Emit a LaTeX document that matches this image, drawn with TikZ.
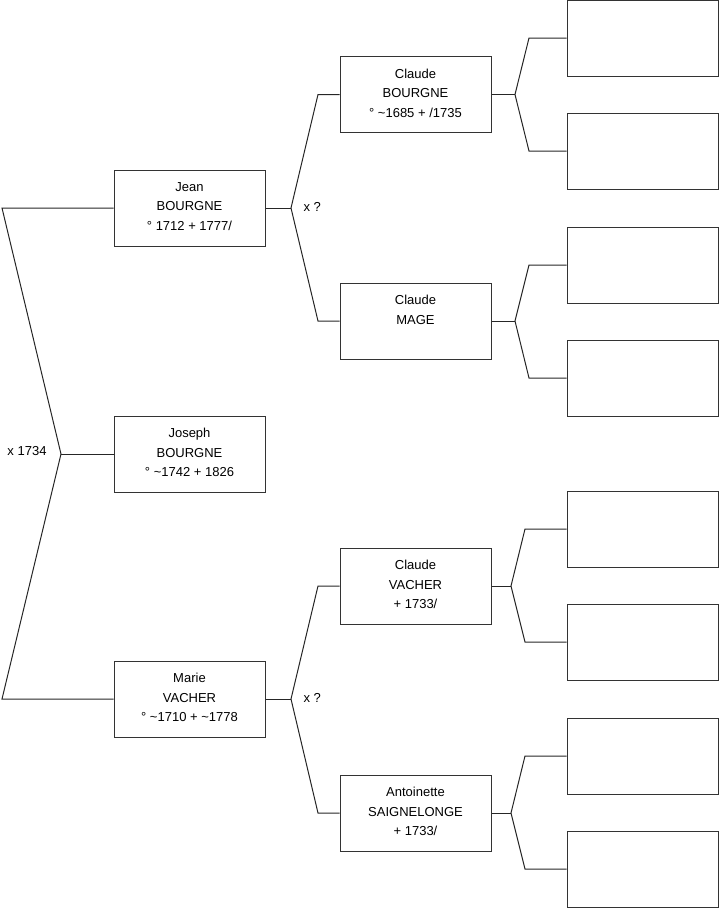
\documentclass[tikz,border=0pt]{standalone}
\usepackage{fontspec}
\setmainfont{Liberation Sans}
\begin{document}
\begin{tikzpicture}[x=0.75pt,y=-0.75pt,line width=0.75pt,
  box/.style={draw=black!80,fill=white,minimum width=113.25pt,minimum height=57pt,inner sep=0pt},
  txt/.style={align=center,inner sep=0pt,font=\fontsize{9.75}{14.6}\selectfont},
  conn/.style={draw=black!85},
  lbl/.style={font=\fontsize{9.75}{11}\selectfont,inner sep=0pt}]
\useasboundingbox (0,0) rectangle (719,908);
% generation 1
\node[box] (jean) at (189.5,208) {};
\node[txt] (tjean) at ([yshift=1.1pt]jean.center) {Jean\\BOURGNE\\° 1712 + 1777/};
\node[box] (joseph) at (189.5,454) {};
\node[txt] (tjoseph) at ([yshift=1.1pt]joseph.center) {Joseph\\BOURGNE\\° \char`~1742 + 1826};
\node[box] (marie) at (189.5,699) {};
\node[txt] (tmarie) at ([yshift=1.1pt]marie.center) {Marie\\VACHER\\° \char`~1710 + \char`~1778};
% generation 2
\node[box] (cb) at (415.5,94.5) {};
\node[txt] (tcb) at ([yshift=1.1pt]cb.center) {Claude\\BOURGNE\\° \char`~1685 + /1735};
\node[box] (cm) at (415.5,321) {};
\node[txt] (tcm) at ([yshift=-1.1pt]cm.center) {Claude\\MAGE\\\strut};
\node[box] (cv) at (415.5,586) {};
\node[txt] (tcv) at ([yshift=1.1pt]cv.center) {Claude\\VACHER\\+ 1733/};
\node[box] (as) at (415.5,813) {};
\node[txt] (tas) at ([yshift=1.1pt]as.center) {Antoinette\\SAIGNELONGE\\+ 1733/};
% generation 3
\node[box] (e1) at (642.5,38) {};
\node[box] (e2) at (642.5,151) {};
\node[box] (e3) at (642.5,265) {};
\node[box] (e4) at (642.5,378) {};
\node[box] (e5) at (642.5,529) {};
\node[box] (e6) at (642.5,642) {};
\node[box] (e7) at (642.5,756) {};
\node[box] (e8) at (642.5,869) {};
% connectors left
\coordinate (jl) at (2,208);
\coordinate (ml) at (2,699);
\coordinate (v0) at (61,454);
\draw[conn] (jean.west) -- (jl) -- (v0) -- (ml) -- (marie.west);
\draw[conn] (v0) -- (joseph.west);
\node[lbl,anchor=west] (l0) at (7,451) {x 1734};
% Jean parents
\coordinate (v1) at (291,208);
\coordinate (v1a) at (318,94.5);
\coordinate (v1b) at (318,321);
\draw[conn] (jean.east) -- (v1);
\draw[conn] (cb.west) -- (v1a) -- (v1) -- (v1b) -- (cm.west);
\node[lbl,anchor=west] (l1) at (303,207) {x ?};
% Marie parents
\coordinate (v2) at (291,699);
\coordinate (v2a) at (318,586);
\coordinate (v2b) at (318,813);
\draw[conn] (marie.east) -- (v2);
\draw[conn] (cv.west) -- (v2a) -- (v2) -- (v2b) -- (as.west);
\node[lbl,anchor=west] (l2) at (303,698) {x ?};
% grandparents
\coordinate (w1) at (515,94.5);
\coordinate (w1a) at (529,38);
\coordinate (w1b) at (529,151);
\draw[conn] (cb.east) -- (w1);
\draw[conn] (e1.west) -- (w1a) -- (w1) -- (w1b) -- (e2.west);
\coordinate (w2) at (515,321);
\coordinate (w2a) at (529,265);
\coordinate (w2b) at (529,378);
\draw[conn] (cm.east) -- (w2);
\draw[conn] (e3.west) -- (w2a) -- (w2) -- (w2b) -- (e4.west);
\coordinate (w3) at (511,586);
\coordinate (w3a) at (525,529);
\coordinate (w3b) at (525,642);
\draw[conn] (cv.east) -- (w3);
\draw[conn] (e5.west) -- (w3a) -- (w3) -- (w3b) -- (e6.west);
\coordinate (w4) at (511,813);
\coordinate (w4a) at (525,756);
\coordinate (w4b) at (525,869);
\draw[conn] (as.east) -- (w4);
\draw[conn] (e7.west) -- (w4a) -- (w4) -- (w4b) -- (e8.west);
\end{tikzpicture}
\end{document}
